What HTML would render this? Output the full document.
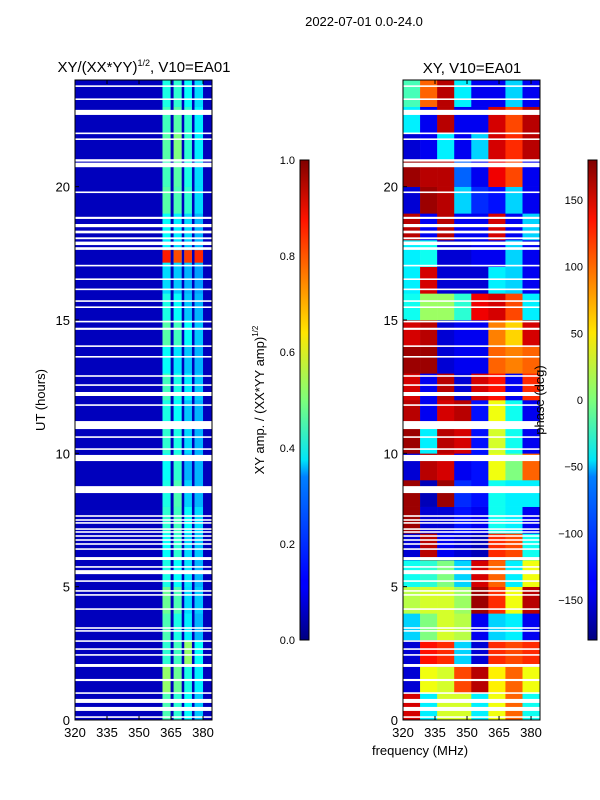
<!DOCTYPE html>
<html><head><meta charset="utf-8">
<style>
body{margin:0;background:#fff;}
svg{display:block;font-family:"Liberation Sans",sans-serif;}
</style></head>
<body>
<svg id="fig" width="600" height="800" viewBox="0 0 600 800">
<defs>
<linearGradient id="jet" x1="0" y1="1" x2="0" y2="0">
<stop offset="0" stop-color="#000080"/><stop offset="0.11" stop-color="#0000ff"/>
<stop offset="0.125" stop-color="#0000ff"/><stop offset="0.34" stop-color="#0080ff"/>
<stop offset="0.375" stop-color="#00e4f8"/><stop offset="0.5" stop-color="#7dff7a"/>
<stop offset="0.64" stop-color="#ffe600"/><stop offset="0.875" stop-color="#ff1300"/>
<stop offset="1" stop-color="#800000"/>
</linearGradient>
</defs>
<text x="364" y="26" font-size="13" text-anchor="middle">2022-07-01 0.0-24.0</text>
<text x="144" y="72" font-size="15" text-anchor="middle">XY/(XX*YY)<tspan font-size="9" dy="-6">1/2</tspan><tspan dy="6">, V10=EA01</tspan></text>
<text x="472" y="73" font-size="15" text-anchor="middle">XY, V10=EA01</text>
<g id="left"></g>
<g id="right"></g>
<g id="axes"></g>
<text transform="translate(45,400) rotate(-90)" font-size="13" text-anchor="middle">UT (hours)</text>
<text x="420" y="755" font-size="13" text-anchor="middle">frequency (MHz)</text>
<rect x="300" y="160" width="9" height="480" fill="url(#jet)" stroke="#000" stroke-width="1"/>
<rect x="588" y="160" width="9" height="480" fill="url(#jet)" stroke="#000" stroke-width="1"/>
<text transform="translate(264,400) rotate(-90)" font-size="13" text-anchor="middle">XY amp. / (XX*YY amp)<tspan font-size="8" dy="-6">1/2</tspan></text>
<text transform="translate(544,400) rotate(-90)" font-size="13" text-anchor="middle">phase (deg)</text>
</svg>
<script>
const hoursTicks=[0,5,10,15,20];
const freqTicks=[320,335,350,365,380];
const ampTicks=[0,0.2,0.4,0.6,0.8,1.0];
const phaseTicks=[-150,-100,-50,0,50,100,150];
// flagged (blank) time ranges in hours
const flags=[[23.74,23.8],[23.25,23.31],[22.69,22.88],[21.97,22.03],[21.75,21.81],[20.94,21.03],[20.73,20.9],[19.76,19.82],[18.79,18.87],[18.48,18.6],[18.25,18.35],[18.03,18.1],[17.81,17.94],[17.63,17.73],[17.01,17.07],[16.5,16.56],[16.12,16.18],[15.68,15.74],[15.45,15.51],[14.91,14.97],[14.63,14.71],[13.99,14.05],[13.59,13.65],[12.87,12.93],[12.53,12.59],[12.15,12.3],[11.78,11.84],[10.91,11.21],[10.58,10.64],[10.13,10.19],[9.71,9.94],[8.51,8.77],[7.62,7.68],[7.47,7.53],[7.36,7.42],[7.13,7.19],[7.02,7.08],[6.87,6.93],[6.72,6.78],[6.57,6.63],[6.38,6.44],[6.0,6.11],[5.71,5.77],[5.47,5.62],[5.18,5.24],[4.81,4.87],[4.66,4.72],[4.13,4.19],[3.42,3.48],[3.31,3.37],[2.93,2.99],[2.63,2.69],[2.41,2.47],[1.99,2.1],[1.46,1.54],[0.98,1.04],[0.64,0.79],[0.34,0.49],[0.08,0.14]];
// amplitude: sub-band edges (MHz) and hourly values per sub-band
const ampBands=[[320,361],[361,364.8],[366.2,370],[371.2,374.8],[376,380],[380,384]];
const ampHourly=[
[0.45,0.42,0.38,0.32],[0.52,0.48,0.4,0.36],[0.42,0.44,0.52,0.38],[0.45,0.4,0.36,0.3],
[0.48,0.45,0.34,0.32],[0.4,0.38,0.35,0.3],[0.38,0.42,0.34,0.32],[0.42,0.44,0.38,0.34],
[0.4,0.45,0.33,0.3],[0.38,0.42,0.3,0.3],[0.42,0.4,0.34,0.3],[0.4,0.38,0.32,0.3],
[0.44,0.4,0.36,0.32],[0.38,0.35,0.32,0.3],[0.46,0.44,0.38,0.32],[0.4,0.38,0.32,0.3],
[0.34,0.32,0.3,0.28],[0.36,0.34,0.32,0.3],[0.38,0.36,0.34,0.3],[0.46,0.45,0.42,0.34],
[0.44,0.46,0.4,0.34],[0.46,0.5,0.42,0.36],[0.44,0.46,0.42,0.36],[0.4,0.42,0.38,0.34]];
const hotStart=17.15, hotEnd=17.62;
const hotValues=[0.85,0.8,0.82,0.84];
// phase: 8 columns of 8 MHz, hourly phases (deg)
const phaseCols=[320,328,336,344,352,360,368,376,384];
const phaseHourly=[
[150,-50,30,30,-50,40,100,-40],[-150,40,30,110,160,50,100,40],[-150,130,120,-60,-150,120,110,120],
[-60,0,30,20,-140,-60,-50,-140],[20,30,30,10,170,120,40,160],[-40,-30,0,-60,150,100,-50,40],
[-150,160,-140,-150,-160,120,110,-40],[170,-150,-150,-130,-140,-40,-50,-140],[170,-160,170,-120,-130,-40,-50,-50],
[-150,160,150,-140,-130,40,0,100],[170,-50,160,150,-130,30,-40,-140],[160,-140,150,160,-130,40,-40,-140],
[150,-140,160,-150,150,130,-140,120],[170,170,-150,-140,-140,100,90,100],[150,160,-150,-140,-140,90,60,150],
[-40,10,10,-30,140,150,110,-50],[-50,150,-150,-150,-150,-50,-60,-140],[-50,-40,-150,-150,-140,-140,-60,-140],
[160,-140,160,-140,-140,150,-140,-60],[-150,170,160,-60,-120,-130,-60,-140],[170,160,160,-100,-140,140,110,-140],
[-150,-140,-50,-140,-60,150,120,160],[-50,-140,160,-140,-140,150,110,160],[-20,100,160,-50,-140,-140,-60,-140]];

const NS='http://www.w3.org/2000/svg';
const yPx=h=>720-h*(640/24);
const xL=f=>75+(f-320)*(137/64.2);
const xR=f=>403+(f-320)*(137/64.2);
const ampY=v=>640-v*480;
const phY=v=>400-v*(480/360);
function jet(v){v=Math.max(0,Math.min(1,v));
 const r=Math.min(4*v-1.5,-4*v+4.5),g=Math.min(4*v-0.5,-4*v+3.5),b=Math.min(4*v+0.5,-4*v+2.5);
 const c=x=>Math.round(255*Math.max(0,Math.min(1,x)));return `rgb(${c(r)},${c(g)},${c(b)})`;}
function mk(tag,a,parent){const e=document.createElementNS(NS,tag);for(const k in a)e.setAttribute(k,a[k]);parent.appendChild(e);return e;}
const L=document.getElementById('left'),R=document.getElementById('right'),A=document.getElementById('axes');
let bg=mk('rect',{x:75,y:80,width:137,height:640,fill:jet(0.06)},L);


for(let h=0;h<24;h++){
 for(let b=1;b<=4;b++){
  const [f0,f1]=ampBands[b];
  let r=mk('rect',{x:xL(f0),y:yPx(h+1),width:xL(f1)-xL(f0),height:yPx(h)-yPx(h+1)+0.3,fill:jet(ampHourly[h][b-1])},L);
  
  
 }
}
for(let b=1;b<=4;b++){
 const [f0,f1]=ampBands[b];
 let r=mk('rect',{x:xL(f0),y:yPx(hotEnd),width:xL(f1)-xL(f0),height:yPx(hotStart)-yPx(hotEnd),fill:jet(hotValues[b-1])},L);
 
 
}
for(let h=0;h<24;h++){
 for(let c=0;c<8;c++){
  let r=mk('rect',{x:xR(phaseCols[c]),y:yPx(h+1),width:xR(phaseCols[c+1])-xR(phaseCols[c])+0.3,height:yPx(h)-yPx(h+1)+0.3,fill:jet((phaseHourly[h][c]+180)/360)},R);
  
  
 }
}
for(const [a,b] of flags){
 for(const [g,x0] of [[L,75],[R,403]]){
  let r=mk('rect',{x:x0,y:yPx(b),width:137,height:Math.max(1.2,yPx(a)-yPx(b)),fill:'#fff'},g);
  
  
 }
}
for(const x0 of [75,403]){
 let f=mk('rect',{x:x0,y:80,width:137,height:640,fill:'none',stroke:'#000','stroke-width':1},A);
 
 
 const xf=x0===75?xL:xR;
 for(const h of hoursTicks){
  mk('line',{x1:x0,x2:x0+4,y1:yPx(h),y2:yPx(h),stroke:'#000'},A);
  let t=mk('text',{x:x0-5,y:yPx(h)+5,'font-size':13,'text-anchor':'end'},A);t.textContent=h;
  
  
 }
 for(const f of freqTicks){
  mk('line',{x1:xf(f),x2:xf(f),y1:720,y2:716,stroke:'#000'},A);
  mk('line',{x1:xf(f),x2:xf(f),y1:80,y2:84,stroke:'#000'},A);
  let t=mk('text',{x:xf(f),y:737,'font-size':13,'text-anchor':'middle'},A);t.textContent=f;
  
  
 }
}
for(const v of ampTicks){
 mk('line',{x1:300,x2:309,y1:ampY(v),y2:ampY(v),stroke:'#000','stroke-width':0.8},A);
 let t=mk('text',{x:295,y:ampY(v)+4,'font-size':11,'text-anchor':'end'},A);t.textContent=v.toFixed(1);
 
 
}
for(const v of phaseTicks){
 mk('line',{x1:588,x2:597,y1:phY(v),y2:phY(v),stroke:'#000','stroke-width':0.8},A);
 let t=mk('text',{x:583,y:phY(v)+4,'font-size':11,'text-anchor':'end'},A);t.textContent=v<0?'\u2212'+(-v):v;
 
 
}
</script>
</body></html>
